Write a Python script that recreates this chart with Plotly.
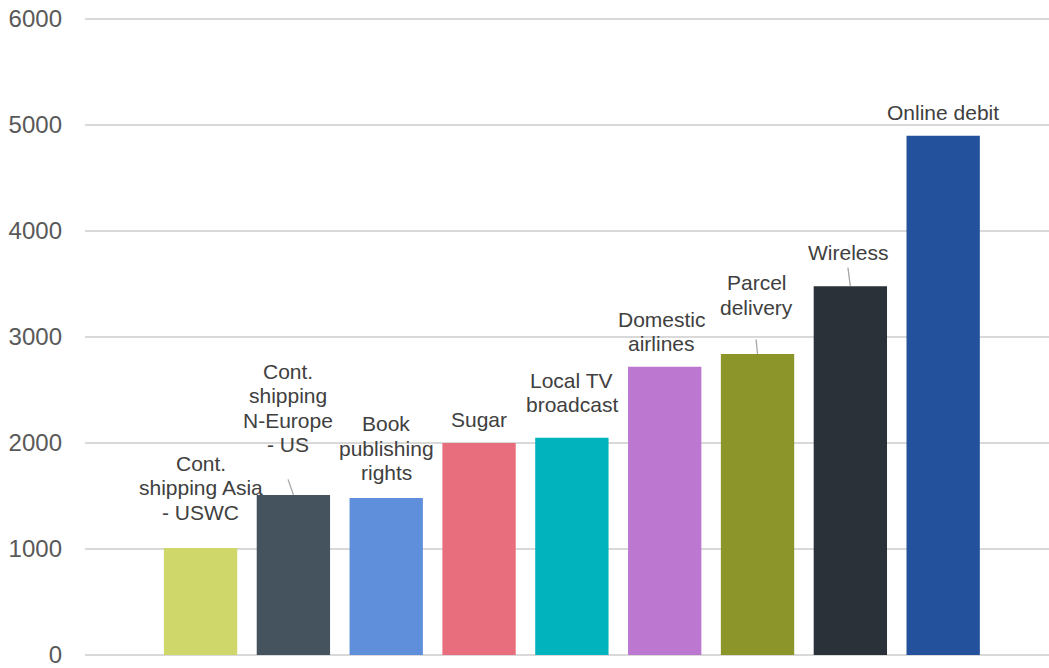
import plotly.graph_objects as go

categories = [
    "Cont.<br>shipping Asia<br>- USWC",
    "Cont.<br>shipping<br>N-Europe<br>- US",
    "Book<br>publishing<br>rights",
    "Sugar",
    "Local TV<br>broadcast",
    "Domestic<br>airlines",
    "Parcel<br>delivery",
    "Wireless",
    "Online debit",
]
values = [1010, 1510, 1480, 2000, 2050, 2720, 2840, 3480, 4900]
colors = ["#CFD76A", "#44535E", "#5F8FDB", "#E86E7E", "#00B3BD",
          "#BC78D0", "#8C9529", "#2B3139", "#23519B"]
y_ticks = [0, 1000, 2000, 3000, 4000, 5000, 6000]

# label styling (pixels): centre of label block relative to bar top
label_dx = [0, -5, 0, 0, 0, -3, -1, -2, 0]
label_dy = [-60, -87, -50, -23, -45, -35, -59, -34, -23]
LINE_GAP = 24.5
# leader lines: start offset (pixels) relative to bar top, None = no line
leader_start = [None, (-5.5, -16), None, None, None, None, (-1.5, -15), (-2.5, -19), None]

FONT = "Liberation Sans, Arial, sans-serif"

xs = list(range(len(values)))
fig = go.Figure(go.Bar(x=xs, y=values, marker=dict(color=colors, line=dict(width=0)),
                       width=0.79, hoverinfo="skip"))

for i, (lab, v) in enumerate(zip(categories, values)):
    lines = lab.split("<br>")
    n = len(lines)
    for k, line in enumerate(lines):
        off = label_dy[i] + (k - (n - 1) / 2) * LINE_GAP
        fig.add_annotation(x=i, y=v, text=line, showarrow=False,
                           xshift=label_dx[i], yshift=-off,
                           yanchor="middle", xanchor="center",
                           font=dict(family=FONT, size=21, color="#404040"))
    if leader_start[i] is not None:
        sx, sy = leader_start[i]
        fig.add_annotation(x=i, y=v, text="", showarrow=True, arrowhead=0,
                           arrowwidth=1.3, arrowcolor="#A6A6A6",
                           ax=sx, ay=sy, standoff=0, borderpad=0,
                           font=dict(size=1))

fig.update_layout(
    width=1049, height=668,
    margin=dict(l=85, r=0, t=18, b=7),
    paper_bgcolor="white", plot_bgcolor="white",
    showlegend=False,
    font=dict(family=FONT, color="#595959"),
)
fig.update_xaxes(range=[-1.245, 9.14], showticklabels=False, showgrid=False,
                 zeroline=False, showline=False, ticks="")
fig.update_yaxes(range=[-10, 6010], tickvals=y_ticks, ticktext=[str(t) for t in y_ticks],
                 showgrid=True, gridcolor="#D9D9D9", gridwidth=1.5,
                 zeroline=True, zerolinecolor="#D9D9D9", zerolinewidth=1.5,
                 showline=False, ticks="", ticklabelstandoff=22,
                 ticklabeloverflow="allow",
                 tickfont=dict(family=FONT, size=24, color="#595959"))

fig.write_html(
    "out.html",
    config={"displayModeBar": False, "staticPlot": True},
    post_script=(
        "document.documentElement.style.margin='0';"
        "document.documentElement.style.padding='0';"
        "document.documentElement.style.overflow='hidden';"
        "document.documentElement.style.height='668px';"
        "document.body.style.margin='0';"
        "document.body.style.padding='0';"
        "document.body.style.overflow='hidden';"
        "document.body.style.height='668px';"
    ),
)
